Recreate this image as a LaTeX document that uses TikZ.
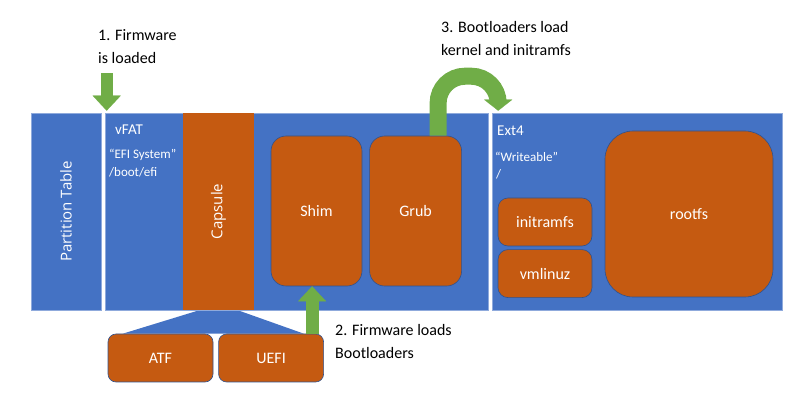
\documentclass[tikz,border=0pt]{standalone}
\usepackage{fontspec}
\setmainfont{Carlito}
\newfontfamily\uifont{Open Sans}
\usetikzlibrary{arrows.meta,positioning,backgrounds}
\definecolor{partblue}{HTML}{4472C4}
\definecolor{partedge}{HTML}{8FAADC}
\definecolor{imgorange}{HTML}{C55A11}
\definecolor{imgedge}{HTML}{2F528F}
\definecolor{stepgreen}{HTML}{70AD47}
\tikzset{
  partblock/.style={
    rectangle, draw=partedge, fill=partblue, line width=0.6pt,
    minimum height=197pt, inner sep=0pt
  },
  imgblock/.style={
    rectangle, rounded corners=#1, draw=imgedge, fill=imgorange,
    line width=0.6pt, text=white, inner sep=0pt,
    font=\fontsize{16}{19}\selectfont
  },
  imgblock/.default=10pt,
  sidename/.style={
    rotate=90, text=white, inner sep=0pt,
    font=\uifont\fontsize{15}{18}\selectfont
  },
  parttext/.style={
    anchor=west, inner sep=0pt, text=white,
    font=\fontsize{13}{16}\selectfont
  },
  steptext/.style={
    anchor=north west, inner sep=0pt, align=left,
    font=\fontsize{16}{23}\selectfont
  },
  steparrow/.style={
    -{Triangle[length=#1, width=28pt, line width=0.1pt]},
    line width=12pt, color=stepgreen
  },
  steparrow/.default=15pt,
}
\begin{document}
\begin{tikzpicture}[x=1pt, y=-1pt]
  \useasboundingbox (0,0) rectangle (809,403);

  % Partitions
  \node[partblock, minimum width=70pt] (ptable) at (66,211.5) {};
  \node[sidename] (ptname) at (ptable) {Partition Table};
  \node[partblock, minimum width=383pt] (vfat) at (296.5,211.5) {};
  \node[partblock, minimum width=290pt] (ext4) at (637,211.5) {};

  % vFAT contents
  \node[parttext, font=\fontsize{15}{18}\selectfont] (vfatname) at (115,130) {vFAT};
  \node[parttext] (efisys) at (109,155) {“EFI System”};
  \node[parttext] (bootefi) at (109,172) {/boot/efi};
  \node[imgblock=0pt, draw=none, minimum width=71pt, minimum height=197pt] (capsule)
    at (218.5,211.5) {};
  \node[sidename] (capname) at (capsule) {Capsule};
  \node[imgblock=15pt, minimum width=91pt, minimum height=150pt] (shim) at (316.5,211) {Shim};
  \node[imgblock=15pt, minimum width=92pt, minimum height=150pt, right=7pt of shim] (grub) {Grub};

  % Ext4 contents
  \node[parttext, font=\fontsize{15}{18}\selectfont] (ext4name) at (497,131) {Ext4};
  \node[parttext] (writeable) at (495,157) {“Writeable”};
  \node[parttext] (rootdir) at (496,174) {/};
  \node[imgblock, minimum width=94pt, minimum height=48pt] (initramfs) at (545,222) {initramfs};
  \node[imgblock, minimum width=94pt, minimum height=48pt, below=3pt of initramfs] (vmlinuz) {vmlinuz};
  \node[imgblock=28pt, minimum width=168pt, minimum height=166pt] (rootfs) at (689,214) {rootfs};

  % Capsule payload
  \node[imgblock=8pt, minimum width=105pt, minimum height=48pt] (atf) at (160.5,358) {ATF};
  \node[imgblock=8pt, minimum width=105pt, minimum height=48pt, right=5pt of atf] (uefi) {UEFI};
  \begin{scope}[on background layer]
    \fill[partblue] ([xshift=-19.5pt]capsule.south) -- ([xshift=19.5pt]capsule.south)
      -- ([xshift=-20pt]uefi.north east) -- ([xshift=15pt]atf.north west) -- cycle;
  \end{scope}

  % Boot steps
  \node[steptext] (step1) at (98,29.5) {1. Firmware\\is loaded};
  \node[steptext] (step2) at (335,324) {2. Firmware loads\\Bootloaders};
  \node[steptext] (step3) at (441,21.5) {3. Bootloaders load\\kernel and initramfs};

  \draw[steparrow] ([xshift=2pt,yshift=-9pt]vfat.north west |- step1.south)
    -- ([xshift=2pt,yshift=2pt]vfat.north west);
  \draw[steparrow, line width=13pt] ([xshift=41pt]uefi.north)
    -- ([xshift=41pt]uefi.north |- shim.south);
  \draw[steparrow=11pt, line width=17pt, rounded corners=27pt] ([xshift=22.5pt]grub.north)
    |- ([xshift=6.5pt,yshift=36.5pt]ext4.north west)
    -- ([xshift=6.5pt,yshift=2pt]ext4.north west);
\end{tikzpicture}
\end{document}
